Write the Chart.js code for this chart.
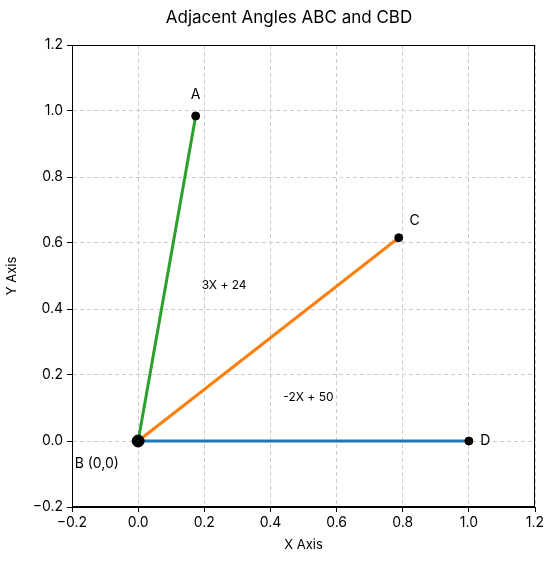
<!DOCTYPE html>
<html>
<head>
<meta charset="utf-8">
<script src="https://cdn.jsdelivr.net/npm/chart.js@4.4.1/dist/chart.umd.min.js"></script>
<style>
  html, body { margin: 0; padding: 0; background: #fff; }
  #wrap { width: 553px; height: 562px; }
</style>
</head>
<body>
<div id="wrap"><canvas id="chart"></canvas></div>
<script>
// points of the figure (B is the vertex)
const pointNames = ['B', 'A', 'C', 'D'];
const pointX = [0, 0.174, 0.788, 1.0];
const pointY = [0, 0.985, 0.616, 0.0];

// rays from B, with colours
const rayEnds = ['A', 'C', 'D'];
const rayColors = ['#2ca02c', '#ff7f0e', '#1f77b4'];

// text labels placed in data coordinates
const labelTexts = ['A', 'C', 'D', 'B (0,0)', '3X + 24', '-2X + 50'];
const labelX = [0.174, 0.836, 1.05, -0.125, 0.26, 0.515];
const labelY = [1.05, 0.667, 0.0, -0.07, 0.473, 0.133];
const labelSizes = [14, 14, 14, 14, 12, 12];

const tickValues = [-0.2, 0, 0.2, 0.4, 0.6, 0.8, 1.0, 1.2];

const FONT = 'Inter, "Open Sans", sans-serif';

function fmt(v) {
  let s = Math.abs(v).toFixed(1);
  return v < -1e-9 ? '\u2212' + s : s;
}

let datasets = [];
rayEnds.forEach((name, i) => {
  let k = pointNames.indexOf(name);
  datasets.push({
    data: [{x: pointX[0], y: pointY[0]}, {x: pointX[k], y: pointY[k]}],
    showLine: true,
    borderColor: rayColors[i],
    borderWidth: 3,
    pointRadius: 0,
    order: 2
  });
});
datasets.push({
  data: pointX.map((x, i) => ({x: x, y: pointY[i]})),
  showLine: false,
  backgroundColor: '#000',
  borderColor: '#000',
  pointRadius: ctx => ctx.dataIndex === 0 ? 6 : 4,
  order: 1
});

const overlay = {
  id: 'overlay',
  afterDatasetsDraw(chart) {
    const c = chart.ctx, a = chart.chartArea;
    const xs = chart.scales.x, ys = chart.scales.y;
    c.save();
    c.strokeStyle = '#000';
    c.lineWidth = 1;
    c.strokeRect(a.left + 0.5, a.top + 0.5, a.right - a.left - 1, a.bottom - a.top - 1);
    c.fillStyle = '#000';
    c.textAlign = 'center';
    c.textBaseline = 'middle';
    labelTexts.forEach((t, i) => {
      c.font = labelSizes[i] + 'px ' + FONT;
      c.fillText(t, xs.getPixelForValue(labelX[i]), ys.getPixelForValue(labelY[i]));
    });
    c.font = '17px ' + FONT;
    c.fillText('Adjacent Angles ABC and CBD', 289, 18);
    c.restore();
  }
};

new Chart(document.getElementById('chart'), {
  type: 'scatter',
  data: { datasets: datasets },
  plugins: [overlay],
  options: {
    responsive: true,
    maintainAspectRatio: false,
    animation: false,
    layout: { padding: { top: 45, right: 18, bottom: 0, left: 0 } },
    plugins: {
      legend: { display: false },
      tooltip: { enabled: false }
    },
    scales: {
      x: {
        type: 'linear',
        min: -0.2, max: 1.2,
        afterBuildTicks: s => { s.ticks = tickValues.map(v => ({value: v})); },
        afterFit: s => { s.height = 55; },
        ticks: { callback: v => fmt(v), color: '#000', font: { size: 14, family: FONT }, padding: 2, maxRotation: 0 },
        grid: { color: '#cccccc', tickColor: '#000', tickLength: 5, tickBorderDash: [] },
        border: { color: '#000', dash: [4, 3] },
        title: { display: true, text: 'X Axis', color: '#000', font: { size: 13, family: FONT }, padding: { top: 0, bottom: 9 } }
      },
      y: {
        type: 'linear',
        min: -0.2, max: 1.2,
        afterBuildTicks: s => { s.ticks = tickValues.map(v => ({value: v})); },
        afterFit: s => { s.width = 72; },
        ticks: { callback: v => fmt(v), color: '#000', font: { size: 14, family: FONT }, padding: 4 },
        grid: { color: '#cccccc', tickColor: '#000', tickLength: 5, tickBorderDash: [] },
        border: { color: '#000', dash: [4, 3] },
        title: { display: true, text: 'Y Axis', color: '#000', font: { size: 13, family: FONT }, padding: { bottom: 2 } }
      }
    }
  }
});
</script>
</body>
</html>
